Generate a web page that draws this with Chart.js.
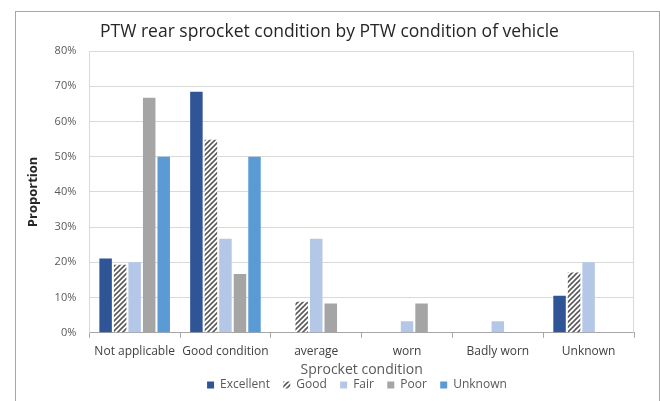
<!DOCTYPE html>
<html>
<head>
<meta charset="utf-8">
<script src="https://cdn.jsdelivr.net/npm/chart.js@4/dist/chart.umd.min.js"></script>
<style>
  html, body { margin: 0; padding: 0; background: #fff; }
  #wrap { position: relative; width: 660px; height: 401px; }
  #frame { position: absolute; left: 15px; top: 11px; width: 643px; height: 400px; border: 1px solid #a6a6a6; }
  canvas { position: absolute; left: 0; top: 0; }
</style>
</head>
<body>
<div id="wrap">
  <div id="frame"></div>
  <canvas id="chart" width="660" height="401"></canvas>
</div>
<script>
'use strict';

// sprocket condition categories (x axis)
var categories = ['Not applicable', 'Good condition', 'average', 'worn', 'Badly worn', 'Unknown'];

// proportion (%) per PTW vehicle condition
var excellent = [21.1, 68.4, 0, 0, 0, 10.5];
var good      = [19.3, 54.8, 8.8, 0, 0, 17.1];
var fair      = [20.0, 26.7, 26.7, 3.3, 3.3, 20.0];
var poor      = [66.7, 16.7, 8.3, 8.3, 0, 0];
var unknown   = [50.0, 50.0, 0, 0, 0, 0];

var yTicks = [0, 10, 20, 30, 40, 50, 60, 70, 80];

function hatch() {
    var c = document.createElement('canvas');
    c.width = 5; c.height = 5;
    var g = c.getContext('2d');
    g.fillStyle = '#ffffff';
    g.fillRect(0, 0, 5, 5);
    g.strokeStyle = '#5a5a5a';
    g.lineWidth = 1.6;
    g.beginPath();
    g.moveTo(-1, 6); g.lineTo(6, -1);
    g.moveTo(-1, 1); g.lineTo(1, -1);
    g.moveTo(4, 6); g.lineTo(6, 4);
    g.stroke();
    return g.createPattern(c, 'repeat');
}

var plotBorder = {
    id: 'plotBorder',
    afterDraw: function (chart) {
        var a = chart.chartArea, ctx = chart.ctx;
        ctx.save();
        ctx.strokeStyle = '#d9d9d9';
        ctx.lineWidth = 1;
        ctx.beginPath();
        ctx.moveTo(a.left, a.top + 0.5);
        ctx.lineTo(a.right - 0.5, a.top + 0.5);
        ctx.lineTo(a.right - 0.5, a.bottom);
        ctx.stroke();
        ctx.restore();
    }
};

var font = '"Open Sans", Lato, sans-serif';

var ctx = document.getElementById('chart').getContext('2d');
new Chart(ctx, {
    type: 'bar',
    data: {
        labels: categories,
        datasets: [
            { label: 'Excellent', data: excellent, backgroundColor: '#2f5597' },
            { label: 'Good', data: good, backgroundColor: hatch() },
            { label: 'Fair', data: fair, backgroundColor: '#b4c7e7' },
            { label: 'Poor', data: poor, backgroundColor: '#a5a5a5' },
            { label: 'Unknown', data: unknown, backgroundColor: '#5b9bd5' }
        ]
    },
    options: {
        responsive: false,
        animation: false,
        devicePixelRatio: 1,
        layout: { padding: { left: 25, right: 26, top: 22, bottom: 0 } },
        datasets: { bar: { categoryPercentage: 0.8, barPercentage: 0.86 } },
        plugins: {
            title: {
                display: true,
                text: 'PTW rear sprocket condition by PTW condition of vehicle',
                color: '#262626',
                font: { family: font, size: 17.5, weight: 'normal' },
                padding: { top: 0, bottom: 8 }
            },
            legend: {
                position: 'bottom',
                fullSize: false,
                labels: {
                    color: '#595959',
                    font: { family: font, size: 12 },
                    boxWidth: 7,
                    boxHeight: 7,
                    padding: 4,
                    generateLabels: function (chart) {
                        // trailing spaces widen the gap between items without adding height
                        return Chart.defaults.plugins.legend.labels.generateLabels(chart).map(function (item) {
                            item.text = item.text + '   ';
                            return item;
                        });
                    }
                }
            },
            tooltip: { enabled: false }
        },
        scales: {
            x: {
                grid: { offset: true, drawOnChartArea: false, color: '#a6a6a6', tickLength: 5 },
                border: { color: '#a6a6a6' },
                ticks: { color: '#404040', font: { family: font, size: 12 }, maxRotation: 0, padding: 7 },
                title: { display: true, text: 'Sprocket condition', color: '#595959', font: { family: font, size: 14 }, padding: { top: -5, bottom: -3 } }
            },
            y: {
                min: 0,
                max: 80,
                afterBuildTicks: function (axis) { axis.ticks = yTicks.map(function (v) { return { value: v }; }); },
                grid: { color: '#d9d9d9', drawTicks: false },
                border: { color: '#d9d9d9' },
                ticks: { color: '#595959', font: { family: font, size: 11 }, padding: 13, callback: function (v) { return v + '%'; } },
                title: { display: true, text: 'Proportion', color: '#262626', font: { family: font, size: 13, weight: 'bold' }, padding: { top: 0, bottom: 1 } }
            }
        }
    },
    plugins: [plotBorder]
});
</script>
</body>
</html>
